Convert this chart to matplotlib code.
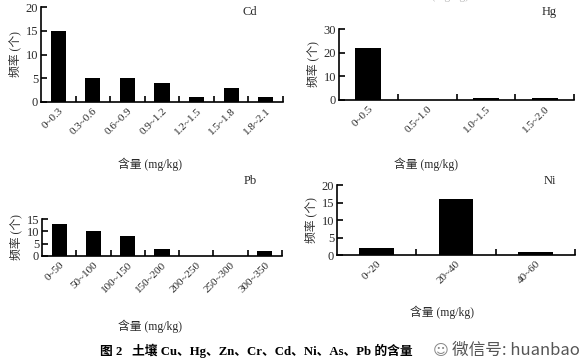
import matplotlib

matplotlib.use("Agg")
import matplotlib.pyplot as plt

plt.rcParams["font.family"] = ["Liberation Serif", "Noto Sans CJK SC", "DejaVu Sans"]
plt.rcParams["axes.unicode_minus"] = False

# 数据：各元素含量分级频率
cd_bins = ["0~0.3", "0.3~0.6", "0.6~0.9", "0.9~1.2", "1.2~1.5", "1.5~1.8", "1.8~2.1"]
cd_freq = [15, 5, 5, 4, 1, 3, 1]

hg_bins = ["0~0.5", "0.5~1.0", "1.0~1.5", "1.5~2.0"]
hg_freq = [22, 0, 1, 1]

pb_bins = ["0~50", "50~100", "100~150", "150~200", "200~250", "250~300", "300~350"]
pb_freq = [13, 10, 8, 3, 0, 0, 2]

ni_bins = ["0~20", "20~40", "40~60"]
ni_freq = [2, 16, 1]

TEXT = "#2a2a2a"
W, H = 584, 360


def panel(fig, rect, bins, freq, yticks, name, name_xy):
    ax = fig.add_axes(rect)
    n = len(bins)
    x = [i + 0.5 for i in range(n)]
    ax.bar(x, freq, width=0.44, color="black")
    ax.set_xlim(0, n)
    ax.set_ylim(0, yticks[-1])
    ax.set_yticks(yticks)
    ax.set_xticks(range(1, n + 1))
    ax.set_xticklabels([])
    ax.set_xticks(x, minor=True)
    ax.set_xticklabels(bins, minor=True, rotation=45, ha="right",
                       rotation_mode="anchor", fontsize=8, color=TEXT)
    ax.tick_params(axis="x", which="minor", length=0, pad=3)
    ax.tick_params(axis="x", which="major", direction="in", length=4.5, width=1.2)
    ax.tick_params(axis="y", direction="in", length=4, width=1.2,
                   labelsize=9, labelcolor=TEXT, pad=2)
    for s in ["top", "right"]:
        ax.spines[s].set_visible(False)
    for s in ["left", "bottom"]:
        ax.spines[s].set_linewidth(1.2)
    ax.set_ylabel("频率 (个)", fontsize=8.5, color=TEXT, labelpad=3)
    ax.set_xlabel("含量 (mg/kg)", fontsize=8.5, color=TEXT)
    fig.text(name_xy[0] / W, 1 - name_xy[1] / H, name, fontsize=9,
             color=TEXT, ha="center", va="center")
    return ax


fig = plt.figure(figsize=(5.84, 3.6), dpi=100)

ax1 = panel(fig, [41 / W, 1 - 102 / H, 242 / W, 95 / H], cd_bins, cd_freq,
            [0, 5, 10, 15, 20], "Cd", (250, 12))
ax1.xaxis.set_label_coords(0.45, -0.59)

ax2 = panel(fig, [339 / W, 1 - 100 / H, 235 / W, 71 / H], hg_bins, hg_freq,
            [0, 10, 20, 30], "Hg", (549, 12))
ax2.xaxis.set_label_coords(0.37, -0.81)

ax3 = panel(fig, [42 / W, 1 - 256 / H, 240 / W, 37 / H], pb_bins, pb_freq,
            [0, 5, 10, 15], "Pb", (250, 181))
ax3.xaxis.set_label_coords(0.45, -1.72)

ax4 = panel(fig, [337 / W, 1 - 255 / H, 238 / W, 70 / H], ni_bins, ni_freq,
            [0, 5, 10, 15, 20], "Ni", (550, 181))
ax4.xaxis.set_label_coords(0.44, -0.72)

# 上方被截断的图注（原图裁切残留）
fig.text(437 / W, 1.012, "含量 (mg/kg)", fontsize=8.5, color="#bbbbbb",
         ha="center", va="center")

# 图题
fig.text(100 / W, 1 - 351 / H,
         "图 2   土壤 Cu、Hg、Zn、Cr、Cd、Ni、As、Pb 的含量",
         fontsize=9.2, fontweight="bold", color="black", ha="left", va="center")
# 水印
fig.text(441 / W, 1 - 350 / H, "☺", fontsize=11, color="#888888",
         ha="center", va="center", family=["DejaVu Sans"])
fig.text(452 / W, 1 - 350 / H, "微信号: huanbao", fontsize=12,
         color="#555555", ha="left", va="center",
         family=["Noto Sans CJK SC", "DejaVu Sans"])

plt.savefig("out.png", dpi=100)
